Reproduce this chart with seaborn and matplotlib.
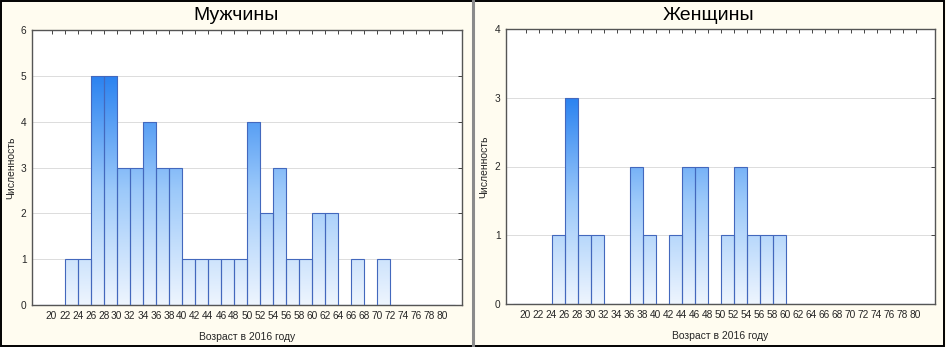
import numpy as np
import pandas as pd
import matplotlib
matplotlib.use("Agg")
import matplotlib.pyplot as plt
import seaborn as sns
from matplotlib.colors import LinearSegmentedColormap
from matplotlib.lines import Line2D

# --- Data (left edge of each 2-year bin -> count) ---
men_ages = [22, 24, 26, 28, 30, 32, 34, 36, 38, 40, 42, 44, 46, 48,
            50, 52, 54, 56, 58, 60, 62, 66, 70]
men_counts = [1, 1, 5, 5, 3, 3, 4, 3, 3, 1, 1, 1, 1, 1,
              4, 2, 3, 1, 1, 2, 2, 1, 1]

women_ages = [24, 26, 28, 30, 36, 38, 42, 44, 46, 50, 52, 54, 56, 58]
women_counts = [1, 3, 1, 1, 2, 1, 1, 2, 2, 1, 2, 1, 1, 1]

bin_edges = list(range(18, 84, 2))
tick_ages = list(range(20, 82, 2))

titles = ["Мужчины", "Женщины"]
y_max = [6, 4]
xlabel = "Возраст в 2016 году"
ylabel = "Численность"

sns.set_style("white")
plt.rcParams['font.family'] = ['Liberation Sans', 'DejaVu Sans']

bg = "#fffcf0"
edge_col = "#4368bd"
cmap = LinearSegmentedColormap.from_list("statblue", ["#eef5fe", "#9cc9fa", "#2a82f0"])

fig = plt.figure(figsize=(9.46, 3.47), dpi=100, facecolor=bg)
W, H = 946, 347
# axes boxes in pixels: left, top, right, bottom
boxes = [(32, 30, 462, 305), (506, 29, 935, 304)]
panel_centers = [236, 709]
ylabel_x = [16, 489]

panels = [(men_ages, men_counts), (women_ages, women_counts)]

for i, ((ages, counts), box) in enumerate(zip(panels, boxes)):
    l, t, r, b = box
    ax = fig.add_axes([l / W, 1 - b / H, (r - l) / W, (b - t) / H])
    ax.set_facecolor("white")
    df = pd.DataFrame({"age": np.array(ages) + 1, "n": counts})
    sns.histplot(data=df, x="age", weights="n", bins=bin_edges, ax=ax,
                 element="bars", fill=True, edgecolor=edge_col, linewidth=0.8)

    top = max(counts)
    grad = np.linspace(0, 1, 256).reshape(-1, 1)
    for p in ax.patches:
        h = p.get_height()
        if h <= 0:
            continue
        x0 = p.get_x()
        w = p.get_width()
        im = ax.imshow(grad, extent=[x0, x0 + w, 0, top], origin="lower",
                       aspect="auto", cmap=cmap, vmin=0, vmax=1, zorder=2,
                       interpolation="bilinear")
        im.set_clip_path(p)
        p.set_facecolor("none")
        p.set_zorder(3)

    ax.set_xlim(17, 83)
    ax.set_ylim(0, y_max[i])
    ax.set_xticks(tick_ages)
    ax.set_xticklabels([str(a) for a in tick_ages], fontsize=7.3)
    ax.set_yticks(range(0, y_max[i] + 1))
    ax.set_yticklabels([str(v) for v in range(0, y_max[i] + 1)], fontsize=7.3)
    ax.tick_params(axis="both", direction="in", length=3, width=0.7,
                   top=True, right=True, color="#444444", pad=4)
    ax.grid(axis="y", color="#dcdcdc", linewidth=0.7, zorder=0)
    ax.set_axisbelow(True)
    for s in ax.spines.values():
        s.set_color("#555555")
        s.set_linewidth(1.0)
    ax.set_xlabel(xlabel, fontsize=7.5, labelpad=8)
    ax.set_ylabel(ylabel, fontsize=7.5)
    ax.yaxis.set_label_coords((ylabel_x[i] - l) / (r - l), 0.5)
    fig.text(panel_centers[i] / W, 1 - 20 / H, titles[i], fontsize=14,
             ha="center", va="baseline", color="black")

# panel frames
fig.add_artist(Line2D([472.5 / W, 472.5 / W], [0, 1], color="#8a8a8a", lw=2.2))
fig.add_artist(plt.Rectangle((0.001, 0.002), 0.997, 0.995, fill=False,
                             edgecolor="black", lw=1.4, transform=fig.transFigure))

fig.savefig("out.png", dpi=100, facecolor=bg)
